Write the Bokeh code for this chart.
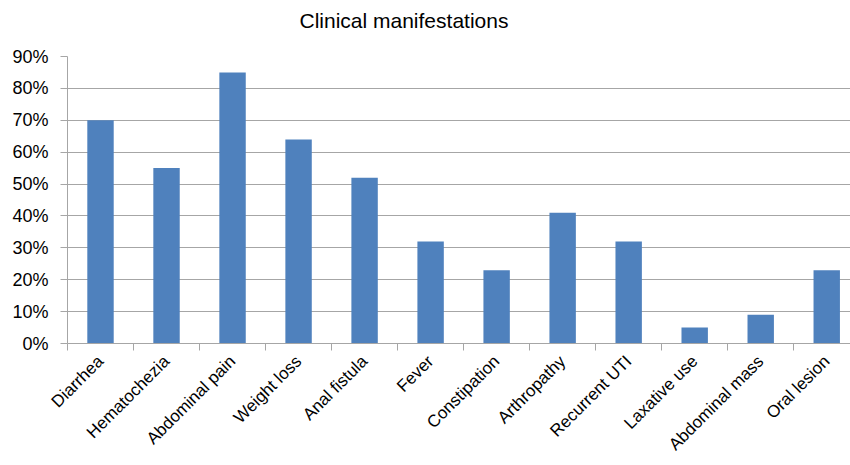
from bokeh.plotting import figure
from bokeh.models import Range1d, FixedTicker, NumeralTickFormatter, ColumnDataSource, Title
from bokeh.embed import file_html
from bokeh.resources import INLINE

title_text = "Clinical manifestations"
categories = ["Diarrhea", "Hematochezia", "Abdominal pain", "Weight loss", "Anal fistula",
              "Fever", "Constipation", "Arthropathy", "Recurrent UTI", "Laxative use",
              "Abdominal mass", "Oral lesion"]
values = [0.70, 0.55, 0.85, 0.64, 0.52, 0.32, 0.23, 0.41, 0.32, 0.05, 0.09, 0.23]
y_ticks = [0.0, 0.1, 0.2, 0.3, 0.4, 0.5, 0.6, 0.7, 0.8, 0.9]

positions = [i + 0.5 for i in range(len(categories))]
boundaries = list(range(len(categories) + 1))

FONT = "Liberation Sans"
GRAY = "#a6a6a6"

p = figure(width=850, height=465, output_backend="svg", toolbar_location=None,
           x_range=Range1d(0, 11.86), y_range=Range1d(0, 0.9),
           min_border_left=67, min_border_right=0, min_border_top=56, min_border_bottom=122)

# a trailing blank line keeps the title clear of the plot area, as in the reference
p.title = Title(text=title_text + "\n ", align="left", offset=232, standoff=4,
                text_font=FONT, text_font_size="21px", text_font_style="normal",
                text_line_height=1.0, text_color="#000000")

src = ColumnDataSource(dict(x=positions, top=values))
p.vbar(x="x", top="top", width=0.4, bottom=0, source=src, fill_color="#4f81bd", line_color=None)

p.outline_line_color = None
p.xgrid.grid_line_color = None
p.ygrid.ticker = FixedTicker(ticks=y_ticks)
p.ygrid.grid_line_color = GRAY

p.yaxis.ticker = FixedTicker(ticks=y_ticks)
p.yaxis.formatter = NumeralTickFormatter(format="0%")
p.yaxis.axis_line_color = GRAY
p.yaxis.major_tick_line_color = GRAY
p.yaxis.major_tick_out = 7
p.yaxis.major_tick_in = 0
p.yaxis.minor_tick_line_color = None
p.yaxis.major_label_text_font = FONT
p.yaxis.major_label_text_font_size = "18px"
p.yaxis.major_label_text_color = "#000000"
p.yaxis.major_label_standoff = 12

p.xaxis.ticker = FixedTicker(ticks=positions, minor_ticks=boundaries)
p.xaxis.major_label_overrides = {pos: c for pos, c in zip(positions, categories)}
p.xaxis.major_tick_line_color = None
p.xaxis.minor_tick_line_color = GRAY
p.xaxis.minor_tick_out = 7
p.xaxis.minor_tick_in = 0
p.xaxis.axis_line_color = GRAY
p.xaxis.major_label_orientation = 0.785398
p.xaxis.major_label_text_font = FONT
p.xaxis.major_label_text_font_size = "17px"
p.xaxis.major_label_text_color = "#000000"
p.xaxis.major_label_standoff = 8

open("out.html", "w").write(file_html(p, INLINE))
